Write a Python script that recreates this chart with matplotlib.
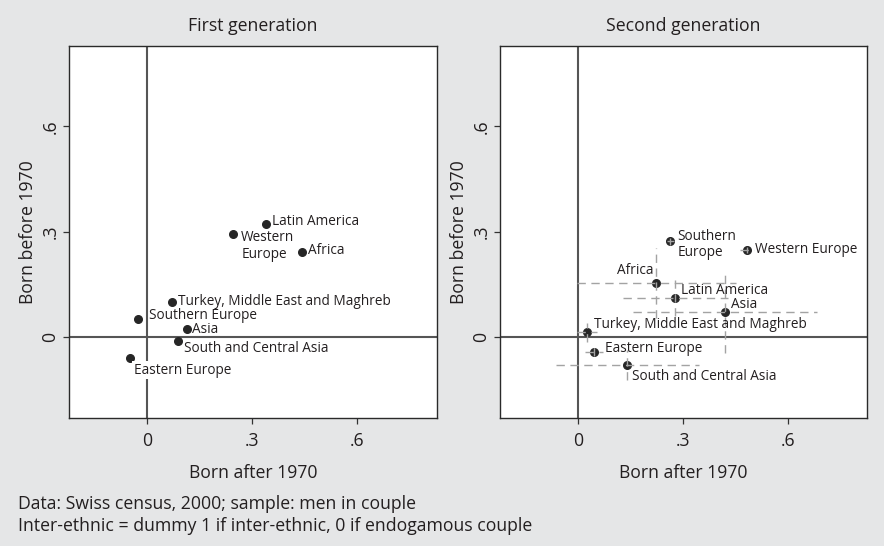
import numpy as np
import matplotlib.pyplot as plt

#first generation: coefficients
regions1 = ['Latin America', 'Western\nEurope', 'Africa', 'Turkey, Middle East and Maghreb',
            'Southern Europe', 'Asia', 'South and Central Asia', 'Eastern Europe']
after1 = [0.339, 0.246, 0.443, 0.070, -0.026, 0.113, 0.088, -0.050]
before1 = [0.322, 0.293, 0.243, 0.102, 0.053, 0.024, -0.011, -0.059]

#second generation, with the confidence half widths (dashed lines)
regions2 = ['Southern\nEurope', 'Western Europe', 'Africa', 'Latin America', 'Asia',
            'Turkey, Middle East and Maghreb', 'Eastern Europe', 'South and Central Asia']
after2 = [0.264, 0.483, 0.224, 0.278, 0.420, 0.025, 0.045, 0.141]
before2 = [0.273, 0.249, 0.155, 0.112, 0.073, 0.014, -0.040, -0.078]
err_after2 = [0.010, 0.020, 0.226, 0.150, 0.262, 0.028, 0.026, 0.204]
err_before2 = [0.010, 0.008, 0.100, 0.052, 0.117, 0.026, 0.013, 0.043]

ticks = [0, 0.3, 0.6]
tick_labels = ['0', '.3', '.6']

#label placement (pixels from the marker, alignment)
pos1 = [(6, 3, 'left'), (8, -12, 'left'), (6, 1, 'left'), (6, 0, 'left'),
        (11, 3, 'left'), (5, -1, 'left'), (6, -7, 'left'), (4, -12, 'left')]
pos2 = [(7, -3, 'left'), (8, 0, 'left'), (-3, 12, 'right'), (6, 8, 'left'),
        (6, 7, 'left'), (7, 8, 'left'), (11, 3, 'left'), (5, -12, 'left')]

plt.rcParams['font.family'] = ['Open Sans', 'DejaVu Sans']
txt = '#231f20'
bg = '#e5e6e7'
big = 12.7
small = 9.8

fig = plt.figure(figsize=(8.84, 5.46), dpi=100, facecolor=bg)
ax1 = fig.add_axes([0.0781, 0.2344, 0.4157, 0.6813])
ax2 = fig.add_axes([0.5656, 0.2344, 0.4157, 0.6813])


def setup(ax, title):
    ax.set_facecolor('white')
    ax.set_xlim(-0.223, 0.827)
    ax.set_ylim(-0.229, 0.828)
    ax.axhline(0, color='#555555', lw=1.5, zorder=1)
    ax.axvline(0, color='#555555', lw=1.5, zorder=1)
    ax.set_xticks(ticks)
    ax.set_xticklabels(tick_labels)
    ax.set_yticks(ticks)
    ax.set_yticklabels(tick_labels, rotation=90, va='center')
    ax.tick_params(direction='out', length=4, width=0.9, color='#333333',
                   labelsize=big, labelcolor=txt)
    ax.tick_params(axis='x', pad=6)
    ax.tick_params(axis='y', pad=3)
    for s in ax.spines.values():
        s.set_color('#2a2a2a')
        s.set_linewidth(1.0)
    ax.set_xlabel('Born after 1970', fontsize=big, color=txt, labelpad=10)
    ax.set_ylabel('Born before 1970', fontsize=big, color=txt, labelpad=3)
    ax.set_title(title, fontsize=big, color=txt, pad=11)


setup(ax1, 'First generation')
setup(ax2, 'Second generation')

#left panel
ax1.scatter(after1, before1, s=30, color='#262626', zorder=3)
for i in range(len(regions1)):
    dx, dy, ha = pos1[i]
    box = None
    if regions1[i] == 'Eastern Europe':
        box = dict(facecolor='white', edgecolor='none', pad=1)
    ax1.annotate(regions1[i], (after1[i], before1[i]), xytext=(dx, dy),
                 textcoords='offset pixels', ha=ha, va='center', fontsize=small,
                 color=txt, linespacing=1.15, bbox=box, zorder=4)

#right panel, dashed confidence lines on top of markers
ax2.scatter(after2, before2, s=30, color='#262626', zorder=3)
eb = ax2.errorbar(after2, before2, xerr=err_after2, yerr=err_before2, fmt='none',
                  ecolor='#a3a3a3', elinewidth=1.0, capsize=0, zorder=3.5)
for lc in eb[2]:
    lc.set_linestyle((0, (6, 4)))
for i in range(len(regions2)):
    dx, dy, ha = pos2[i]
    ax2.annotate(regions2[i], (after2[i], before2[i]), xytext=(dx, dy),
                 textcoords='offset pixels', ha=ha, va='center', fontsize=small,
                 color=txt, linespacing=1.15, zorder=4)

#notes under the graphs
fig.text(0.0204, 0.077, 'Data: Swiss census, 2000; sample: men in couple', fontsize=big,
         color=txt, va='center')
fig.text(0.0204, 0.037, 'Inter-ethnic = dummy 1 if inter-ethnic, 0 if endogamous couple',
         fontsize=big, color=txt, va='center')

fig.savefig('out.png', dpi=100, facecolor=bg)
